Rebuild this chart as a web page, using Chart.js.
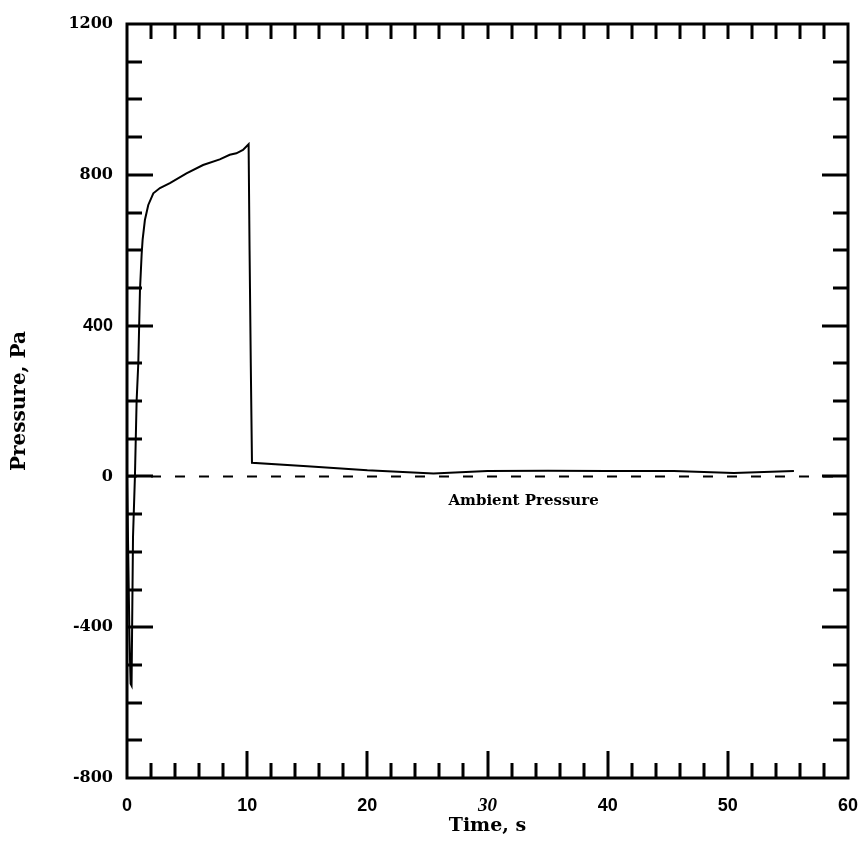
<!DOCTYPE html>
<html>
<head>
<meta charset="utf-8">
<script src="https://cdn.jsdelivr.net/npm/chart.js@4/dist/chart.umd.min.js"></script>
<style>
  html, body { margin: 0; padding: 0; background: #ffffff; }
  #wrap { width: 863px; height: 846px; }
</style>
</head>
<body>
<div id="wrap"><canvas id="c" width="863" height="846"></canvas></div>
<script>
// ---- Data ----
const timeS = [0, 0.1, 0.2, 0.3, 0.38, 0.42, 0.5, 0.66, 0.8, 0.94, 1.08, 1.22, 1.3, 1.49, 1.77, 2.19, 2.74, 3.57, 4.95, 6.33, 7.72, 8.55, 9.1, 9.65, 10.12, 10.2, 10.3, 10.4, 15, 20, 25.5, 30, 35, 40, 45.5, 50.5, 55.5];
const pressurePa = [0, -200, -420, -550, -555, -420, -160, 0, 200, 300, 495, 590, 628, 680, 720, 751, 765, 778, 804, 826, 841, 853, 857, 866, 881, 600, 300, 36, 27, 16, 8, 14, 15, 14, 14, 9, 14];
const ambientTime = [0, 60];
const ambientPressure = [0, 0];
const xTickValues = [0, 10, 20, 30, 40, 50, 60];
const yTickValues = [-800, -400, 0, 400, 800, 1200];
const xMinorStep = 2;
const yMinorStep = 100;
const ambientLabel = { text: "Ambient Pressure", x: 33, y: -65 };

const toPoints = (xs, ys) => xs.map((x, i) => ({ x: x, y: ys[i] }));

const frameTicks = {
  id: 'frameTicks',
  afterDatasetsDraw(chart) {
    const { ctx, chartArea: a, scales } = chart;
    const xs = scales.x, ys = scales.y;
    ctx.save();
    ctx.strokeStyle = '#000';
    ctx.lineWidth = 3;
    ctx.lineCap = 'butt';
    ctx.strokeRect(a.left, a.top, a.right - a.left, a.bottom - a.top);
    for (let v = xs.min; v <= xs.max + 1e-9; v += xMinorStep) {
      if (v === xs.min || v >= xs.max - 1e-9) continue;
      const px = Math.round(xs.getPixelForValue(v));
      const major = Math.abs(v % 10) < 1e-9;
      ctx.beginPath();
      ctx.moveTo(px, a.top); ctx.lineTo(px, a.top + 15);
      ctx.moveTo(px, a.bottom); ctx.lineTo(px, a.bottom - (major ? 27 : 15));
      ctx.stroke();
    }
    for (let v = ys.min; v <= ys.max + 1e-9; v += yMinorStep) {
      if (v === ys.min || v >= ys.max - 1e-9) continue;
      const py = Math.round(ys.getPixelForValue(v));
      const major = Math.abs(v % 400) < 1e-9;
      const len = major ? 26 : 15;
      ctx.beginPath();
      ctx.moveTo(a.left, py); ctx.lineTo(a.left + len, py);
      ctx.moveTo(a.right, py); ctx.lineTo(a.right - len, py);
      ctx.stroke();
    }
    ctx.fillStyle = '#000';
    ctx.font = 'bold 15px "DejaVu Serif"';
    ctx.textAlign = 'center';
    ctx.textBaseline = 'middle';
    ctx.fillText(ambientLabel.text, xs.getPixelForValue(ambientLabel.x), ys.getPixelForValue(ambientLabel.y));
    ctx.restore();
  }
};

new Chart(document.getElementById('c'), {
  type: 'line',
  data: {
    datasets: [
      {
        data: toPoints(timeS, pressurePa),
        borderColor: '#000',
        borderWidth: 2,
        pointRadius: 0,
        tension: 0,
        fill: false
      },
      {
        data: toPoints(ambientTime, ambientPressure),
        borderColor: '#000',
        borderWidth: 2,
        borderDash: [10, 14],
        pointRadius: 0,
        fill: false
      }
    ]
  },
  options: {
    responsive: false,
    animation: false,
    events: [],
    layout: { autoPadding: false, padding: { top: 24, right: 15, left: 0, bottom: 0 } },
    plugins: { legend: { display: false }, tooltip: { enabled: false } },
    scales: {
      x: {
        type: 'linear',
        min: 0, max: 60,
        afterBuildTicks: s => { s.ticks = xTickValues.map(v => ({ value: v })); },
        afterFit: s => { s.height = 68; s.paddingLeft = 0; s.paddingRight = 0; },
        grid: { display: false, drawTicks: false },
        border: { display: false },
        ticks: {
          color: '#000',
          padding: 17,
          maxRotation: 0,
          callback: v => String(v),
          font: ctx => (ctx.tick && ctx.tick.value === 30)
            ? { family: '"Liberation Serif"', size: 19, style: 'italic', weight: 'bold' }
            : { family: '"Liberation Sans"', size: 18, weight: 'bold' }
        },
        title: {
          display: true,
          text: 'Time, s',
          color: '#000',
          font: { family: '"DejaVu Serif"', size: 19, weight: 'bold' },
          padding: { top: 0, bottom: 9 }
        }
      },
      y: {
        type: 'linear',
        min: -800, max: 1200,
        afterBuildTicks: s => { s.ticks = yTickValues.map(v => ({ value: v })); },
        afterFit: s => { s.width = 127; s.paddingTop = 0; s.paddingBottom = 0; },
        grid: { display: false, drawTicks: false },
        border: { display: false },
        ticks: {
          color: '#000',
          padding: 14,
          callback: v => String(v),
          font: ctx => (ctx.tick && ctx.tick.value === 400)
            ? { family: '"Liberation Sans"', size: 18, weight: 'bold' }
            : { family: '"DejaVu Serif"', size: 16, weight: 'bold' }
        },
        title: {
          display: true,
          text: 'Pressure, Pa',
          color: '#000',
          font: { family: '"DejaVu Serif"', size: 20, weight: 'bold' },
          padding: { top: 8, bottom: 0 }
        }
      }
    }
  },
  plugins: [frameTicks]
});
</script>
</body>
</html>
